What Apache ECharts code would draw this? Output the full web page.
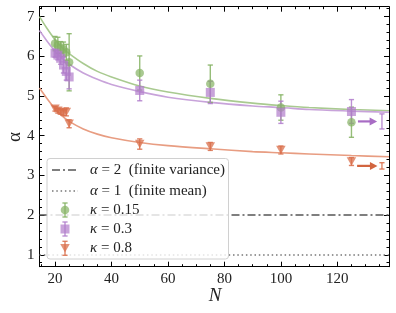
<!DOCTYPE html>
<html><head><meta charset="utf-8">
<script src="https://cdn.jsdelivr.net/npm/echarts@6/dist/echarts.min.js"></script>
<style>html,body{margin:0;padding:0;background:#fff}#c{width:396px;height:313px}</style>
</head><body><div id="c"></div>
<script>
// ---- data ----
const N = [20, 21, 22, 23, 24, 25, 50, 75, 100, 125];
const greenVals  = [6.32, 6.28, 6.22, 6.18, 6.10, 5.85, 5.58, 5.31, 4.71, 4.34];
const greenErr   = [0.18, 0.20, 0.15, 0.18, 0.20, 0.72, 0.43, 0.47, 0.32, 0.38];
const purpleVals = [6.08, 6.03, 5.95, 5.78, 5.62, 5.48, 5.14, 5.09, 4.59, 4.61];
const purpleErr  = [0.10, 0.12, 0.15, 0.20, 0.22, 0.30, 0.26, 0.28, 0.28, 0.30];
const orangeVals = [4.68, 4.63, 4.60, 4.58, 4.60, 4.30, 3.79, 3.73, 3.64, 3.35];
const orangeErr  = [0.06, 0.06, 0.06, 0.07, 0.10, 0.10, 0.13, 0.10, 0.10, 0.10];

const fitN      = [14.5, 17, 20, 22.5, 25, 30, 35, 40, 50, 60, 75, 90, 100, 110, 125, 138.3];
const fitGreen  = [7.00, 6.72, 6.42, 6.22, 6.07, 5.82, 5.62, 5.48, 5.25, 5.10, 4.94, 4.82, 4.76, 4.71, 4.66, 4.63];
const fitPurple = [6.65, 6.40, 6.13, 5.95, 5.80, 5.58, 5.42, 5.29, 5.11, 4.97, 4.84, 4.75, 4.71, 4.66, 4.62, 4.59];
const fitOrange = [5.20, 4.95, 4.68, 4.50, 4.36, 4.17, 4.04, 3.95, 3.83, 3.75, 3.67, 3.60, 3.57, 3.54, 3.50, 3.47];

// asymptotic values: [N, alpha, err]
const asymPurple = [135.8, 4.36, 0.19];
const asymOrange = [135.8, 3.24, 0.08];
// arrows: [N start, N end, alpha]
const arrowPurple = [127.3, 134.1, 4.36];
const arrowOrange = [127.0, 134.2, 3.24];

const refLines = [2, 1];
const xMajor = [20, 40, 60, 80, 100, 120];
const xMinor = [15, 25, 30, 35, 45, 50, 55, 65, 70, 75, 85, 90, 95, 105, 110, 115, 125, 130, 135];
const yMajor = [1, 2, 3, 4, 5, 6, 7];
const yMinor = [0.8, 1.2, 1.4, 1.6, 1.8, 2.2, 2.4, 2.6, 2.8, 3.2, 3.4, 3.6, 3.8, 4.2, 4.4, 4.6, 4.8,
                5.2, 5.4, 5.6, 5.8, 6.2, 6.4, 6.6, 6.8, 7.2];

const X_MIN = 14.5, X_MAX = 138.3, Y_MIN = 0.7, Y_MAX = 7.25;

const C_GREEN = '#84b262', C_PURPLE = '#b07ccb', C_ORANGE = '#d96f4b';
const L_GREEN = '#a9ca90', L_PURPLE = '#c8a3da', L_ORANGE = '#e89d82';
const SERIF = '"Liberation Serif", "DejaVu Serif", serif';

function errData(vals, errs) { return N.map((n, i) => [n, vals[i], errs[i]]); }

function errRender(color) {
  return function (params, api) {
    const x = api.value(0), y = api.value(1), e = api.value(2);
    const p0 = api.coord([x, y - e]), p1 = api.coord([x, y + e]);
    const cw = 2.6;
    const st = { stroke: color, lineWidth: 1.4, opacity: 0.85 };
    return { type: 'group', children: [
      { type: 'line', shape: { x1: p0[0], y1: p0[1], x2: p1[0], y2: p1[1] }, style: st },
      { type: 'line', shape: { x1: p0[0] - cw, y1: p0[1], x2: p0[0] + cw, y2: p0[1] }, style: st },
      { type: 'line', shape: { x1: p1[0] - cw, y1: p1[1], x2: p1[0] + cw, y2: p1[1] }, style: st }
    ]};
  };
}
function arrowRender(color) {
  return function (params, api) {
    const s = api.coord([api.value(0), api.value(2)]);
    const e = api.coord([api.value(1), api.value(2)]);
    return { type: 'group', children: [
      { type: 'line', shape: { x1: s[0], y1: s[1], x2: e[0] - 6, y2: e[1] }, style: { stroke: color, lineWidth: 2.2 } },
      { type: 'polygon', shape: { points: [[e[0], e[1]], [e[0] - 7.5, e[1] - 4], [e[0] - 7.5, e[1] + 4]] }, style: { fill: color } }
    ]};
  };
}

function xAxisDef(pos, vals, len, labels, line) {
  return { type: 'value', min: X_MIN, max: X_MAX, position: pos, gridIndex: 0,
    axisLine: { show: line, onZero: false, lineStyle: { color: '#000', width: 1 } },
    axisTick: { show: true, inside: true, length: len, customValues: vals, lineStyle: { color: '#000', width: 1 } },
    axisLabel: labels ? { show: true, customValues: xMajor, fontFamily: SERIF, fontSize: 15, color: '#222', margin: 5 } : { show: false },
    splitLine: { show: false } };
}
function yAxisDef(pos, vals, len, labels, line) {
  return { type: 'value', min: Y_MIN, max: Y_MAX, position: pos, gridIndex: 0,
    axisLine: { show: line, onZero: false, lineStyle: { color: '#000', width: 1 } },
    axisTick: { show: true, inside: true, length: len, customValues: vals, lineStyle: { color: '#000', width: 1 } },
    axisLabel: labels ? { show: true, customValues: yMajor, fontFamily: SERIF, fontSize: 15, color: '#222', margin: 5 } : { show: false },
    splitLine: { show: false } };
}

const chart = echarts.init(document.getElementById('c'), null, { renderer: 'canvas' });

const series = [
  { type: 'line', name: 'ref', data: [], xAxisIndex: 0, yAxisIndex: 0, z: 1,
    markLine: { silent: true, symbol: 'none', label: { show: false }, animation: false,
      data: [
        { yAxis: refLines[0], lineStyle: { color: '#555', width: 1.6, type: [8, 3, 2, 3] } },
        { yAxis: refLines[1], lineStyle: { color: '#777', width: 1.6, type: [1.5, 2.8] } }
      ] } },
  { type: 'line', data: fitN.map((n, i) => [n, fitGreen[i]]), smooth: 0.3, showSymbol: false, lineStyle: { color: L_GREEN, width: 1.6 }, z: 2 },
  { type: 'line', data: fitN.map((n, i) => [n, fitPurple[i]]), smooth: 0.3, showSymbol: false, lineStyle: { color: L_PURPLE, width: 1.6 }, z: 2 },
  { type: 'line', data: fitN.map((n, i) => [n, fitOrange[i]]), smooth: 0.3, showSymbol: false, lineStyle: { color: L_ORANGE, width: 1.6 }, z: 2 },
  { type: 'custom', renderItem: errRender(C_GREEN), data: errData(greenVals, greenErr), z: 3 },
  { type: 'custom', renderItem: errRender(C_PURPLE), data: errData(purpleVals, purpleErr), z: 3 },
  { type: 'custom', renderItem: errRender(C_ORANGE), data: errData(orangeVals, orangeErr), z: 3 },
  { type: 'scatter', data: N.map((n, i) => [n, greenVals[i]]), symbol: 'circle', symbolSize: 8.5, itemStyle: { color: C_GREEN, opacity: 0.7 }, z: 4 },
  { type: 'scatter', data: N.map((n, i) => [n, purpleVals[i]]), symbol: 'rect', symbolSize: 9, itemStyle: { color: C_PURPLE, opacity: 0.7 }, z: 4 },
  { type: 'scatter', data: N.map((n, i) => [n, orangeVals[i]]), symbol: 'triangle', symbolRotate: 180, symbolSize: [9.5, 8.5], itemStyle: { color: C_ORANGE, opacity: 0.75 }, z: 4 },
  { type: 'custom', renderItem: errRender(C_PURPLE), data: [asymPurple], z: 3 },
  { type: 'custom', renderItem: errRender(C_ORANGE), data: [asymOrange], z: 3 },
  { type: 'custom', renderItem: arrowRender('#a86cc4'), data: [arrowPurple], z: 3 },
  { type: 'custom', renderItem: arrowRender('#d2653f'), data: [arrowOrange], z: 3 }
];

// legend (drawn as graphic)
const LZ = 50;
const LX = 47, LY = 158.5, LW = 181.5, LH = 100.5;
const rowY = [170, 191, 210, 229, 248.3];
const txtX = 90;
function legMarker(y, color, kind) {
  const st = { stroke: color, lineWidth: 1.4, opacity: 0.85 };
  const x = 65, h = 7, cw = 2.6;
  const items = [
    { type: 'line', z: LZ + 1, shape: { x1: x, y1: y - h, x2: x, y2: y + h }, style: st },
    { type: 'line', z: LZ + 1, shape: { x1: x - cw, y1: y - h, x2: x + cw, y2: y - h }, style: st },
    { type: 'line', z: LZ + 1, shape: { x1: x - cw, y1: y + h, x2: x + cw, y2: y + h }, style: st }
  ];
  if (kind === 'circle') items.push({ type: 'circle', z: LZ + 2, shape: { cx: x, cy: y, r: 4.3 }, style: { fill: color, opacity: 0.7 } });
  if (kind === 'rect') items.push({ type: 'rect', z: LZ + 2, shape: { x: x - 4.5, y: y - 4.5, width: 9, height: 9 }, style: { fill: color, opacity: 0.7 } });
  if (kind === 'tri') items.push({ type: 'polygon', z: LZ + 2, shape: { points: [[x - 4.75, y - 4.2], [x + 4.75, y - 4.2], [x, y + 4.3]] }, style: { fill: color, opacity: 0.75 } });
  return items;
}
const rich = { i: { fontStyle: 'italic', fontFamily: SERIF, fontSize: 15, fill: '#222' } };
function legText(y, t) {
  return { type: 'text', z: LZ + 1, x: txtX, y: y, style: { text: t, rich: rich, fontFamily: SERIF, fontSize: 15, fill: '#222', verticalAlign: 'middle' } };
}
const legendChildren = [
  { type: 'rect', z: LZ, shape: { x: LX, y: LY, width: LW, height: LH, r: 3 }, style: { fill: 'rgba(255,255,255,0.8)', stroke: '#d0d0d0', lineWidth: 1 } },
  { type: 'line', z: LZ + 1, shape: { x1: 52, y1: rowY[0], x2: 78, y2: rowY[0] }, style: { stroke: '#555', lineWidth: 1.6, lineDash: [8, 3, 2, 3] } },
  { type: 'line', z: LZ + 1, shape: { x1: 52, y1: rowY[1], x2: 78, y2: rowY[1] }, style: { stroke: '#777', lineWidth: 1.6, lineDash: [1.5, 2.8] } },
  legText(rowY[0], '{i|α} = 2  (finite variance)'),
  legText(rowY[1], '{i|α} = 1  (finite mean)'),
  legText(rowY[2], '{i|κ} = 0.15'),
  legText(rowY[3], '{i|κ} = 0.3'),
  legText(rowY[4], '{i|κ} = 0.8')
].concat(legMarker(rowY[2], C_GREEN, 'circle'), legMarker(rowY[3], C_PURPLE, 'rect'), legMarker(rowY[4], C_ORANGE, 'tri'));

chart.setOption({
  animation: false,
  backgroundColor: '#fff',
  grid: { left: 39.5, right: 7, top: 6.7, bottom: 46.3, containLabel: false },
  xAxis: [ xAxisDef('bottom', xMajor, 5, true, true), xAxisDef('bottom', xMinor, 2.5, false, false),
           xAxisDef('top', xMajor, 5, false, true), xAxisDef('top', xMinor, 2.5, false, false) ],
  yAxis: [ yAxisDef('left', yMajor, 5, true, true), yAxisDef('left', yMinor, 2.5, false, false),
           yAxisDef('right', yMajor, 5, false, true), yAxisDef('right', yMinor, 2.5, false, false) ],
  series: series,
  graphic: { elements: legendChildren.concat([
    { type: 'text', z: LZ, x: 215, y: 296, style: { text: 'N', fontFamily: SERIF, fontStyle: 'italic', fontSize: 19, fill: '#222', align: 'center', verticalAlign: 'middle' } },
    { type: 'text', z: LZ, x: 15, y: 137, rotation: Math.PI / 2, style: { text: 'α', fontFamily: SERIF, fontSize: 19, fill: '#222', align: 'center', verticalAlign: 'middle' } }
  ]) }
});
</script></body></html>
